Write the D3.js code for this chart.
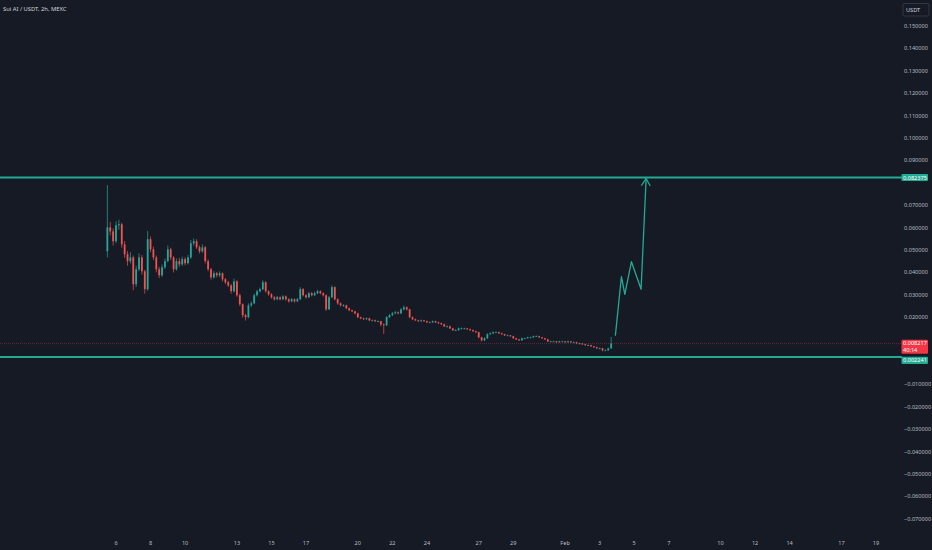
<!DOCTYPE html>
<html>
<head>
<meta charset="utf-8">
<script src="https://cdn.jsdelivr.net/npm/d3@7"></script>
<style>
  html, body { margin: 0; padding: 0; background: #161a25; overflow: hidden; }
  svg text { font-family: "Noto Sans", "DejaVu Sans", sans-serif; }
</style>
</head>
<body>
<div id="chart"></div>
<script>
'use strict';

// 4h candles, open = previous close
const candleStart = "2025-01-05T12:00:00Z";
const candleHours = 4;
const firstOpen = 0.0494;

const closes = [
  0.0601, 0.0583, 0.0539, 0.0610, 0.0615, 0.0525, 0.0481, 0.0450, 0.0467, 0.0347,
  0.0414, 0.0467, 0.0405, 0.0325, 0.0548, 0.0503, 0.0467, 0.0414, 0.0387, 0.0423,
  0.0450, 0.0503, 0.0467, 0.0414, 0.0450, 0.0436, 0.0459, 0.0441, 0.0467, 0.0530,
  0.0539, 0.0512, 0.0494, 0.0512, 0.0450, 0.0414, 0.0378, 0.0396, 0.0387, 0.0396,
  0.0369, 0.0356, 0.0342, 0.0316, 0.0360, 0.0298, 0.0258, 0.0209, 0.0200, 0.0253,
  0.0262, 0.0298, 0.0316, 0.0325, 0.0356, 0.0316, 0.0302, 0.0289, 0.0280, 0.0289,
  0.0280, 0.0293, 0.0280, 0.0271, 0.0280, 0.0271, 0.0280, 0.0325, 0.0298, 0.0289,
  0.0307, 0.0298, 0.0307, 0.0316, 0.0307, 0.0298, 0.0235, 0.0289, 0.0334, 0.0280,
  0.0262, 0.0253, 0.0253, 0.0240, 0.0231, 0.0226, 0.0217, 0.0200, 0.0195, 0.0191,
  0.0195, 0.0186, 0.0186, 0.0182, 0.0182, 0.0168, 0.0164, 0.0200, 0.0209, 0.0217,
  0.0222, 0.0217, 0.0235, 0.0244, 0.0235, 0.0200, 0.0191, 0.0186, 0.0182, 0.0186,
  0.0182, 0.0177, 0.0177, 0.0182, 0.0177, 0.0173, 0.0168, 0.0159, 0.0159, 0.0150,
  0.0142, 0.0142, 0.0150, 0.0150, 0.0150, 0.0146, 0.0142, 0.0137, 0.0133, 0.0110,
  0.0097, 0.0106, 0.0124, 0.0128, 0.0133, 0.0133, 0.0128, 0.0124, 0.0119, 0.0119,
  0.0115, 0.0106, 0.0101, 0.0097, 0.0106, 0.0106, 0.0110, 0.0110, 0.0115, 0.0115,
  0.0110, 0.0106, 0.0101, 0.0092, 0.0092, 0.0092, 0.0088, 0.0092, 0.0092, 0.0088,
  0.0092, 0.0088, 0.0088, 0.0083, 0.0083, 0.0079, 0.0075, 0.0075, 0.0070, 0.0066,
  0.0061, 0.0061, 0.0052, 0.0052, 0.0061, 0.008217
];

const highs = [
  0.0790, 0.0625, 0.0596, 0.0628, 0.0635, 0.0622, 0.0540, 0.0495, 0.0490, 0.0475,
  0.0430, 0.0485, 0.0478, 0.0412, 0.0585, 0.0560, 0.0515, 0.0475, 0.0425, 0.0435,
  0.0462, 0.0520, 0.0510, 0.0472, 0.0462, 0.0465, 0.0470, 0.0468, 0.0478, 0.0545,
  0.0552, 0.0548, 0.0520, 0.0525, 0.0518, 0.0458, 0.0420, 0.0405, 0.0402, 0.0405,
  0.0400, 0.0375, 0.0362, 0.0348, 0.0372, 0.0365, 0.0305, 0.0262, 0.0215, 0.0262,
  0.0270, 0.0305, 0.0322, 0.0332, 0.0365, 0.0360, 0.0320, 0.0308, 0.0294, 0.0295,
  0.0293, 0.0298, 0.0297, 0.0285, 0.0286, 0.0284, 0.0286, 0.0334, 0.0330, 0.0303,
  0.0313, 0.0312, 0.0314, 0.0322, 0.0320, 0.0311, 0.0302, 0.0295, 0.0342, 0.0338,
  0.0284, 0.0266, 0.0258, 0.0256, 0.0243, 0.0234, 0.0229, 0.0220, 0.0203, 0.0198,
  0.0199, 0.0198, 0.0190, 0.0189, 0.0186, 0.0184, 0.0172, 0.0205, 0.0214, 0.0223,
  0.0228, 0.0226, 0.0240, 0.0252, 0.0248, 0.0238, 0.0203, 0.0194, 0.0189, 0.0189,
  0.0188, 0.0185, 0.0181, 0.0185, 0.0184, 0.0180, 0.0176, 0.0171, 0.0163, 0.0162,
  0.0153, 0.0146, 0.0154, 0.0154, 0.0153, 0.0152, 0.0149, 0.0145, 0.0140, 0.0135,
  0.0113, 0.0110, 0.0128, 0.0132, 0.0136, 0.0137, 0.0136, 0.0131, 0.0126, 0.0122,
  0.0121, 0.0117, 0.0108, 0.0103, 0.0109, 0.0109, 0.0113, 0.0113, 0.0118, 0.0118,
  0.0117, 0.0112, 0.0108, 0.0103, 0.0095, 0.0095, 0.0094, 0.0095, 0.0095, 0.0094,
  0.0095, 0.0094, 0.0091, 0.0090, 0.0086, 0.0085, 0.0081, 0.0078, 0.0077, 0.0072,
  0.0068, 0.0064, 0.0063, 0.0056, 0.0064, 0.0112
];

const lows = [
  0.0467, 0.0565, 0.0520, 0.0530, 0.0590, 0.0510, 0.0465, 0.0430, 0.0440, 0.0320,
  0.0335, 0.0405, 0.0390, 0.0305, 0.0318, 0.0490, 0.0455, 0.0400, 0.0375, 0.0380,
  0.0415, 0.0445, 0.0455, 0.0400, 0.0408, 0.0425, 0.0430, 0.0432, 0.0435, 0.0460,
  0.0520, 0.0505, 0.0485, 0.0488, 0.0440, 0.0405, 0.0368, 0.0372, 0.0378, 0.0380,
  0.0360, 0.0348, 0.0335, 0.0305, 0.0310, 0.0290, 0.0250, 0.0198, 0.0185, 0.0195,
  0.0245, 0.0258, 0.0292, 0.0310, 0.0320, 0.0310, 0.0296, 0.0283, 0.0274, 0.0276,
  0.0275, 0.0276, 0.0274, 0.0265, 0.0267, 0.0265, 0.0267, 0.0276, 0.0293, 0.0283,
  0.0285, 0.0293, 0.0294, 0.0303, 0.0302, 0.0292, 0.0228, 0.0232, 0.0285, 0.0275,
  0.0256, 0.0248, 0.0247, 0.0236, 0.0227, 0.0222, 0.0213, 0.0196, 0.0191, 0.0187,
  0.0188, 0.0182, 0.0182, 0.0178, 0.0178, 0.0160, 0.0125, 0.0160, 0.0196, 0.0205,
  0.0213, 0.0213, 0.0214, 0.0231, 0.0230, 0.0196, 0.0187, 0.0183, 0.0179, 0.0179,
  0.0179, 0.0174, 0.0174, 0.0175, 0.0174, 0.0170, 0.0165, 0.0156, 0.0155, 0.0147,
  0.0138, 0.0138, 0.0139, 0.0147, 0.0146, 0.0143, 0.0139, 0.0134, 0.0130, 0.0106,
  0.0092, 0.0094, 0.0103, 0.0121, 0.0125, 0.0130, 0.0125, 0.0121, 0.0116, 0.0116,
  0.0112, 0.0103, 0.0098, 0.0094, 0.0095, 0.0103, 0.0104, 0.0107, 0.0108, 0.0112,
  0.0107, 0.0103, 0.0098, 0.0089, 0.0089, 0.0089, 0.0085, 0.0086, 0.0089, 0.0085,
  0.0086, 0.0085, 0.0085, 0.0080, 0.0080, 0.0076, 0.0072, 0.0072, 0.0067, 0.0063,
  0.0058, 0.0057, 0.0048, 0.0049, 0.0050, 0.0059
];

// drawn levels and the projected move
const levels = [0.082375, 0.002241];
const lastPrice = 0.008217;
const countdown = "40:14";
const pathTimes = [
  "2025-02-03T21:50:00Z", "2025-02-04T06:15:00Z", "2025-02-04T11:00:00Z",
  "2025-02-04T20:10:00Z", "2025-02-05T09:35:00Z", "2025-02-05T16:35:00Z"
];
const pathPrices = [0.01174, 0.03808, 0.03022, 0.04478, 0.03246, 0.08192];

// axis ticks
const priceTicks = [
  0.15, 0.14, 0.13, 0.12, 0.11, 0.10, 0.09, 0.08, 0.07, 0.06, 0.05, 0.04,
  0.03, 0.02, 0.01, 0.00, -0.01, -0.02, -0.03, -0.04, -0.05, -0.06, -0.07
];
const timeTicks = [
  "2025-01-06", "2025-01-08", "2025-01-10", "2025-01-13", "2025-01-15",
  "2025-01-17", "2025-01-20", "2025-01-22", "2025-01-24", "2025-01-27",
  "2025-01-29", "2025-02-01", "2025-02-03", "2025-02-05", "2025-02-07",
  "2025-02-10", "2025-02-12", "2025-02-14", "2025-02-17", "2025-02-19"
];
const timeTickLabels = [
  "6", "8", "10", "13", "15", "17", "20", "22", "24", "27",
  "29", "Feb", "3", "5", "7", "10", "12", "14", "17", "19"
];

const WIDTH = 932;
const HEIGHT = 550;
const up = "#26a69a";
const down = "#ef5350";
const lineColor = "#22ab94";
const textColor = "#b8bbc4";
const fmt = d3.format(".6f");

let svg = d3.select('#chart').append('svg')
    .attr("width", WIDTH)
    .attr("height", HEIGHT);

svg.append("rect")
    .attr("width", WIDTH)
    .attr("height", HEIGHT)
    .attr("fill", "#161a25");

let x = d3.scaleUtc()
    .domain([new Date("2025-01-06T00:00:00Z"), new Date("2025-02-19T00:00:00Z")])
    .range([116, 876]);
let y = d3.scaleLinear()
    .domain([0, 0.15])
    .range([362, 26]);

// build candles
let t0 = new Date(candleStart);
let candles = closes.map(function (c, i) {
    return {
        date: d3.utcHour.offset(t0, i * candleHours),
        open: i === 0 ? firstOpen : closes[i - 1],
        close: c,
        high: highs[i],
        low: lows[i]
    };
});

let step = x(d3.utcHour.offset(t0, candleHours)) - x(t0);
let bodyW = Math.max(1, step * 0.62);

let pane = svg.append("g").attr("class", "pane");

pane.selectAll(".wick")
    .data(candles)
    .enter().append("line")
    .attr("class", "wick")
    .attr("x1", d => x(d.date))
    .attr("x2", d => x(d.date))
    .attr("y1", d => y(d.high))
    .attr("y2", d => y(d.low))
    .attr("stroke", d => d.close >= d.open ? up : down)
    .attr("stroke-width", 0.7);

pane.selectAll(".body")
    .data(candles)
    .enter().append("rect")
    .attr("class", "body")
    .attr("x", d => x(d.date) - bodyW / 2)
    .attr("y", d => y(Math.max(d.open, d.close)))
    .attr("width", bodyW)
    .attr("height", d => Math.max(0.8, Math.abs(y(d.open) - y(d.close))))
    .attr("fill", d => d.close >= d.open ? up : down);

// current price line
pane.append("line")
    .attr("x1", 0)
    .attr("x2", 902)
    .attr("y1", y(lastPrice))
    .attr("y2", y(lastPrice))
    .attr("stroke", "#f23645")
    .attr("stroke-opacity", 0.55)
    .attr("stroke-width", 0.7)
    .attr("stroke-dasharray", "1,1");

// horizontal levels
pane.selectAll(".level")
    .data(levels)
    .enter().append("line")
    .attr("class", "level")
    .attr("x1", 0)
    .attr("x2", 902)
    .attr("y1", d => y(d))
    .attr("y2", d => y(d))
    .attr("stroke", lineColor)
    .attr("stroke-width", 2.2);

// projected path
let pathPts = pathTimes.map((t, i) => [x(new Date(t)), y(pathPrices[i])]);
let line = d3.line();
pane.append("path")
    .attr("d", line(pathPts))
    .attr("fill", "none")
    .attr("stroke", lineColor)
    .attr("stroke-width", 1.3)
    .attr("stroke-linejoin", "round");

// arrow head at the last point
let tip = pathPts[pathPts.length - 1];
let prev = pathPts[pathPts.length - 2];
let ang = Math.atan2(tip[1] - prev[1], tip[0] - prev[0]);
let headLen = 8;
[-0.55, 0.55].forEach(function (a) {
    pane.append("line")
        .attr("x1", tip[0])
        .attr("y1", tip[1])
        .attr("x2", tip[0] - headLen * Math.cos(ang + a))
        .attr("y2", tip[1] - headLen * Math.sin(ang + a))
        .attr("stroke", lineColor)
        .attr("stroke-width", 1.3)
        .attr("stroke-linecap", "round");
});

// tags on the price scale: centre, height, colour, text lines
let tags = [
    { yc: y(levels[0]), h: 7.2, fill: lineColor, lines: [fmt(levels[0])] },
    { yc: y(lastPrice) + 3.2, h: 14, fill: "#f23645", lines: [fmt(lastPrice), countdown] },
    { yc: y(levels[1]) + 3.4, h: 7.2, fill: lineColor, lines: [fmt(levels[1])] }
];

// price scale on the right, ticks hidden where a tag covers them
let visibleTicks = priceTicks.filter(function (v) {
    return tags.every(t => Math.abs(y(v) - t.yc) > t.h / 2 + 2.5);
});
let axisG = svg.append("g").attr("class", "price-axis");
axisG.selectAll("text")
    .data(visibleTicks)
    .enter().append("text")
    .attr("x", 904)
    .attr("y", d => y(d))
    .attr("dy", "0.35em")
    .attr("fill", textColor)
    .style("font-size", "5.6px")
    .text(d => fmt(d));

tags.forEach(function (t) {
    let g = svg.append("g");
    g.append("rect")
        .attr("x", 901.5)
        .attr("y", t.yc - t.h / 2)
        .attr("width", 26.5)
        .attr("height", t.h)
        .attr("rx", 1)
        .attr("fill", t.fill);
    t.lines.forEach(function (s, i) {
        g.append("text")
            .attr("x", 903)
            .attr("y", t.yc - t.h / 2 + 3.7 + i * 6.6)
            .attr("dy", "0.35em")
            .attr("fill", "#ffffff")
            .style("font-size", "5.6px")
            .text(s);
    });
});

// currency button
svg.append("rect")
    .attr("x", 903)
    .attr("y", 3.5)
    .attr("width", 26)
    .attr("height", 12.5)
    .attr("rx", 1.5)
    .attr("fill", "#161a25")
    .attr("stroke", "#434651")
    .attr("stroke-width", 0.7);
svg.append("text")
    .attr("x", 906)
    .attr("y", 9.9)
    .attr("dy", "0.35em")
    .attr("fill", "#d1d4dc")
    .style("font-size", "5.6px")
    .text("USDT");

// time scale
svg.append("g").attr("class", "time-axis")
    .selectAll("text")
    .data(timeTicks)
    .enter().append("text")
    .attr("x", d => x(new Date(d + "T00:00:00Z")))
    .attr("y", 543)
    .attr("dy", "0.35em")
    .attr("text-anchor", "middle")
    .attr("fill", textColor)
    .style("font-size", "5.6px")
    .text((d, i) => timeTickLabels[i]);

// legend
svg.append("text")
    .attr("x", 3)
    .attr("y", 9)
    .attr("dy", "0.35em")
    .attr("fill", "#d1d4dc")
    .style("font-size", "5.8px")
    .text("Sui AI / USDT, 2h, MEXC");
</script>
</body>
</html>
